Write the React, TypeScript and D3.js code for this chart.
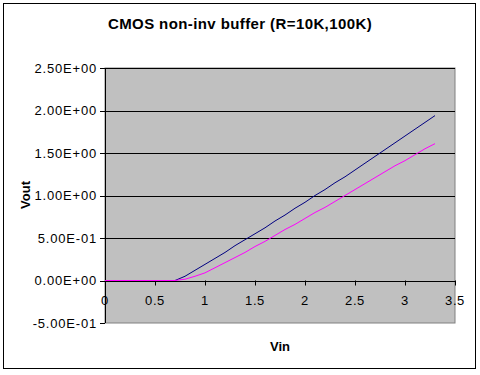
import React from 'react';
import * as d3 from 'd3';

// Vin sweep (V)
const vin = [
  0, 0.1, 0.2, 0.3, 0.4, 0.5, 0.6, 0.7, 0.8, 0.9, 1.0, 1.1, 1.2, 1.3, 1.4, 1.5, 1.6,
  1.7, 1.8, 1.9, 2.0, 2.1, 2.2, 2.3, 2.4, 2.5, 2.6, 2.7, 2.8, 2.9, 3.0, 3.1, 3.2, 3.3,
];
// Vout, R = 10K
const vout10k = [
  0, 0, 0, 0, 0, 0, 0, 0, 0.05, 0.12, 0.19, 0.26, 0.33, 0.41, 0.48, 0.55, 0.62,
  0.7, 0.77, 0.85, 0.92, 1.0, 1.07, 1.15, 1.22, 1.3, 1.38, 1.46, 1.54, 1.62, 1.7, 1.78, 1.86, 1.94,
];
// Vout, R = 100K
const vout100k = [
  0, 0, 0, 0, 0, 0, 0, 0, 0.015, 0.05, 0.09, 0.15, 0.21, 0.27, 0.33, 0.4, 0.46,
  0.53, 0.6, 0.66, 0.73, 0.8, 0.86, 0.93, 1.0, 1.07, 1.14, 1.21, 1.28, 1.35, 1.41, 1.48, 1.55, 1.61,
];
const xTicks = [0, 0.5, 1, 1.5, 2, 2.5, 3, 3.5];
const yTicks = [-0.5, 0, 0.5, 1, 1.5, 2, 2.5];
const yLabels = ['-5.00E-01', '0.00E+00', '5.00E-01', '1.00E+00', '1.50E+00', '2.00E+00', '2.50E+00'];

export default function App() {
  const x = d3.scaleLinear([0, 3.5], [105, 455]);
  const y = d3.scaleLinear([-0.5, 2.5], [323, 68]);
  const line = d3
    .line<number>()
    .x((_, i) => x(vin[i]))
    .y((d) => y(d));

  const font = 'Arial, "Liberation Sans", sans-serif';

  return (
    <svg
      width={480}
      height={375}
      style={{ position: 'absolute', left: 0, top: 0, background: '#fff' }}
      fontFamily={font}
    >
      <rect x={3.5} y={3.5} width={472} height={365} fill="#fff" stroke="#000" />
      <text x={240} y={29} textAnchor="middle" fontSize={15} fontWeight="bold" letterSpacing={0.4}>
        CMOS non-inv buffer (R=10K,100K)
      </text>

      {/* plot area */}
      <rect x={105} y={68} width={350} height={255} fill="#c0c0c0" stroke="#808080" />

      {/* gridlines */}
      {yTicks
        .filter((t) => t > 0)
        .map((t) => (
          <line key={t} x1={105} x2={455} y1={Math.round(y(t)) + 0.5} y2={Math.round(y(t)) + 0.5} stroke="#000" />
        ))}

      {/* y axis */}
      <line x1={105.5} x2={105.5} y1={68} y2={323} stroke="#000" />
      {yTicks.map((t, i) => (
        <g key={t}>
          <line x1={100} x2={105} y1={Math.round(y(t)) + 0.5} y2={Math.round(y(t)) + 0.5} stroke="#000" />
          <text
            x={97}
            y={y(t)}
            dy="0.35em"
            textAnchor="end"
            fontSize={13}
            letterSpacing={0.8}
          >
            {yLabels[i]}
          </text>
        </g>
      ))}

      {/* x axis at y = 0 */}
      <line x1={105} x2={455} y1={Math.round(y(0)) + 0.5} y2={Math.round(y(0)) + 0.5} stroke="#000" />
      {xTicks.map((t) => (
        <g key={t}>
          <line
            x1={Math.round(x(t)) + 0.5}
            x2={Math.round(x(t)) + 0.5}
            y1={y(0)}
            y2={y(0) + 5}
            stroke="#000"
          />
          <text x={x(t)} y={305} textAnchor="middle" fontSize={13} letterSpacing={0.6}>
            {t}
          </text>
        </g>
      ))}

      <path d={line(vout10k) ?? ''} fill="none" stroke="#000080" strokeWidth={1} />
      <path d={line(vout100k) ?? ''} fill="none" stroke="#ff00ff" strokeWidth={1} />

      <text
        transform="translate(30,195) rotate(-90)"
        textAnchor="middle"
        fontSize={13}
        fontWeight="bold"
      >
        Vout
      </text>
      <text x={280} y={351} textAnchor="middle" fontSize={13} fontWeight="bold">
        Vin
      </text>
    </svg>
  );
}
